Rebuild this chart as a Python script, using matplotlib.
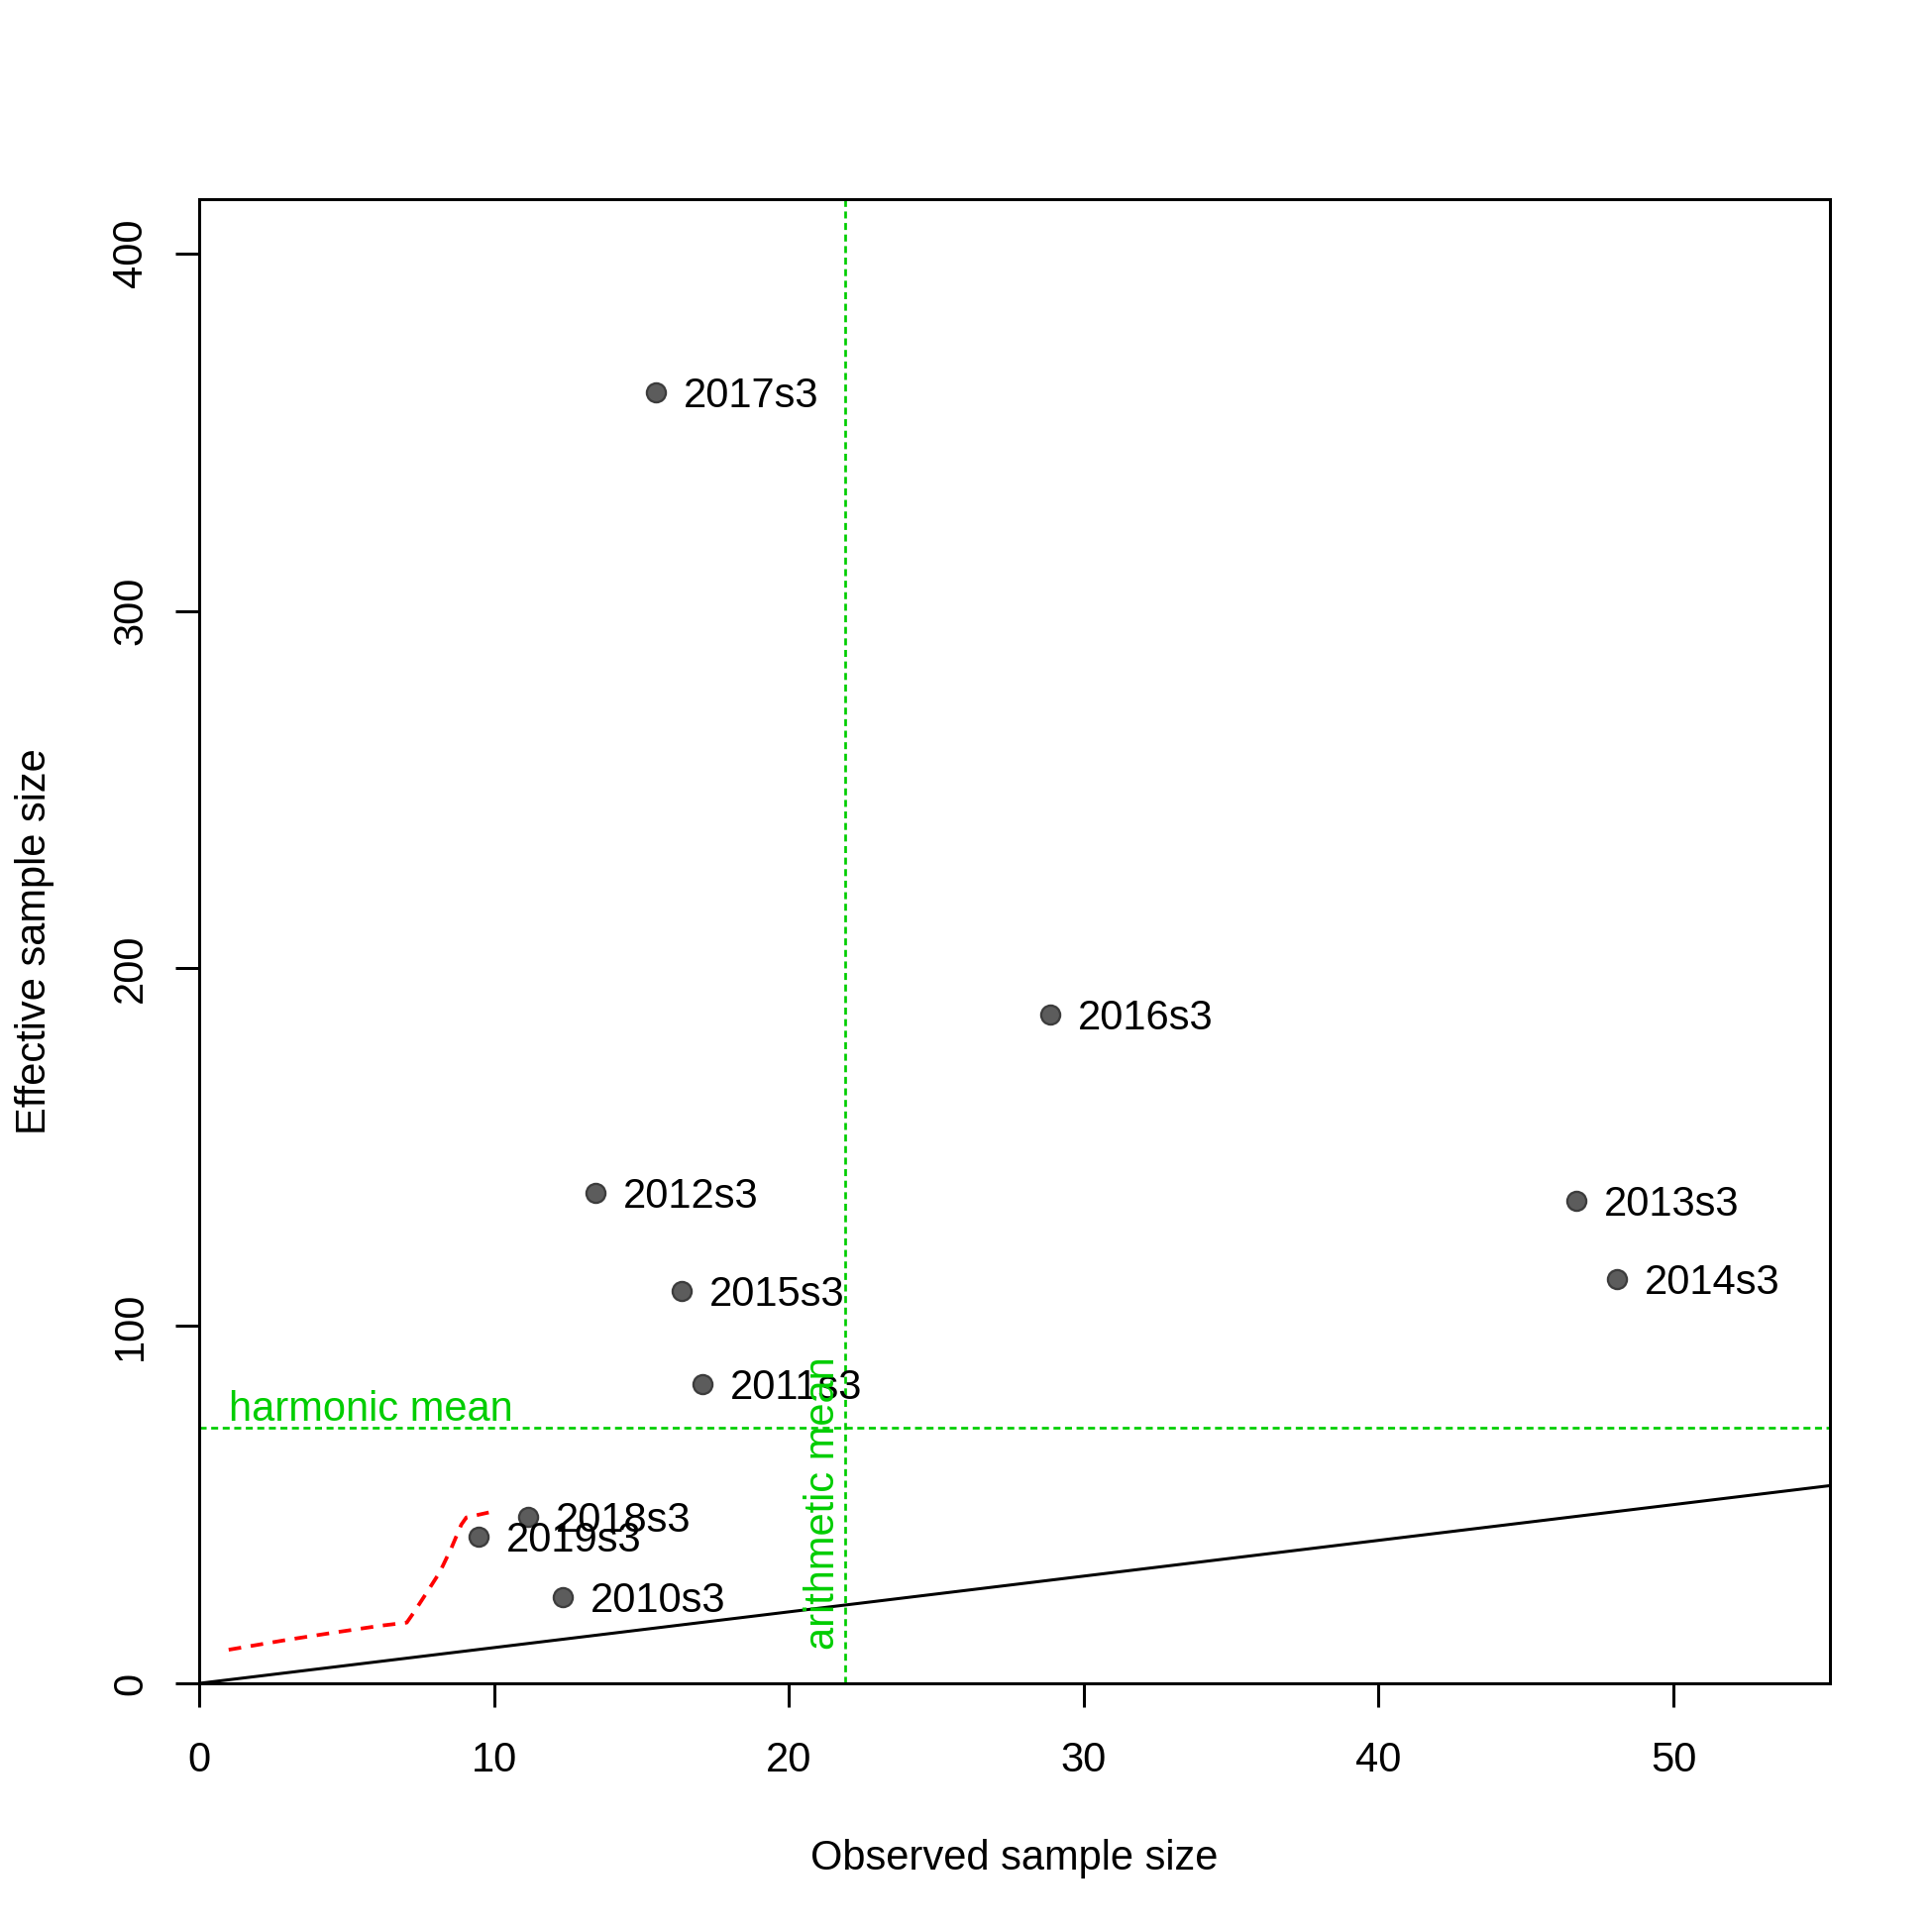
import numpy as np
import matplotlib
matplotlib.use("Agg")
import matplotlib.pyplot as plt

plt.rcParams['font.family'] = ['Liberation Sans', 'DejaVu Sans']

# 每个样本年份的观测样本量和有效样本量
labels = ['2010s3', '2011s3', '2012s3', '2013s3', '2014s3',
          '2015s3', '2016s3', '2017s3', '2018s3', '2019s3']
obs_n = [12.34, 17.07, 13.43, 46.72, 48.09, 16.36, 28.87, 15.49, 11.14, 9.47]
eff_n = [24.1, 83.8, 137.2, 135.1, 113.1, 109.7, 187.1, 361.0, 46.7, 40.9]

# 红色虚线（平滑曲线）
smooth_x = [1.0, 3.0, 4.57, 6.13, 7.04, 7.26, 7.71, 8.16, 8.55, 8.89, 9.06, 9.82]
smooth_y = [9.4, 12.2, 14.2, 16.1, 17.0, 19.6, 25.3, 31.1, 37.8, 44.4, 46.4, 47.8]

x_ticks = [0, 10, 20, 30, 40, 50]
y_ticks = [0, 100, 200, 300, 400]

green = '#00CD00'

arith_mean = np.mean(obs_n)
harm_mean = len(eff_n) / np.sum(1.0 / np.array(eff_n))

fig = plt.figure(figsize=(13, 13), dpi=150)
ax = fig.add_axes([0.1031, 0.1287, 0.8440, 0.7682])

ax.set_xlim(0, max(obs_n) * 1.15)
ax.set_ylim(0, max(eff_n) * 1.15)

# y = x 参考线
ax.plot([0, 100], [0, 100], color='black', lw=1.45)

# 平均值线
ax.axvline(arith_mean, color=green, lw=1.3, dashes=(2.6, 1.7))
ax.axhline(harm_mean, color=green, lw=1.3, dashes=(2.6, 1.7))

ax.plot(smooth_x, smooth_y, color='red', lw=1.8, dashes=(3.4, 2.6))

ax.plot(obs_n, eff_n, 'o', ms=9.2, mfc='#5c5c5c', mec='#3c3c3c', mew=1.1,
        linestyle='none')

for lab, xx, yy in zip(labels, obs_n, eff_n):
    ax.annotate(lab, (xx, yy), xytext=(13.4, -7.2), textcoords='offset points',
                ha='left', va='baseline', fontsize=20, color='black')

ax.text(1.0, harm_mean + 2.0, 'harmonic mean', color=green, fontsize=20,
        ha='left', va='baseline')
ax.text(arith_mean - 0.37, 9.4, 'arithmetic mean', color=green, fontsize=20,
        rotation=90, rotation_mode='anchor', ha='left', va='baseline')

ax.set_xticks(x_ticks)
ax.set_yticks(y_ticks)
ax.tick_params(axis='both', direction='out', length=11.5, width=1.45,
               labelsize=20)
ax.tick_params(axis='x', pad=16.5)
ax.tick_params(axis='y', pad=12)
for lab in ax.get_yticklabels():
    lab.set_rotation(90)
    lab.set_va('center')

for sp in ax.spines.values():
    sp.set_linewidth(1.45)

ax.set_xlabel('Observed sample size', fontsize=20, labelpad=28)
ax.set_ylabel('Effective sample size', fontsize=20, labelpad=27.5)

fig.savefig('out.png', dpi=150)
